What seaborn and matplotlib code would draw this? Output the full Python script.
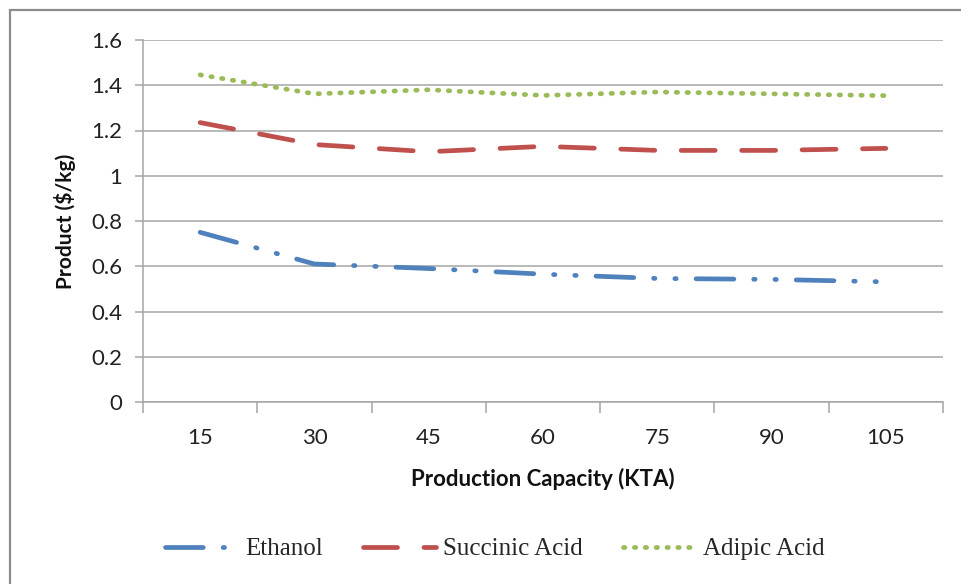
import matplotlib
matplotlib.use("Agg")
import matplotlib.pyplot as plt
from matplotlib.lines import Line2D
from matplotlib.patches import Rectangle
import seaborn as sns
import pandas as pd

# Production capacity categories (KTA) and product cost ($/kg)
capacity = ["15", "30", "45", "60", "75", "90", "105"]
ethanol = [0.75, 0.61, 0.59, 0.565, 0.546, 0.542, 0.531]
succinic_acid = [1.235, 1.138, 1.106, 1.13, 1.112, 1.112, 1.121]
adipic_acid = [1.446, 1.362, 1.38, 1.355, 1.37, 1.362, 1.354]

y_ticks = [0, 0.2, 0.4, 0.6, 0.8, 1.0, 1.2, 1.4, 1.6]
y_tick_labels = ["0", "0.2", "0.4", "0.6", "0.8", "1", "1.2", "1.4", "1.6"]

series_names = ["Ethanol", "Succinic Acid", "Adipic Acid"]
colors = ["#4F81BD", "#C0504D", "#9BBB59"]
dash_styles = [(8.0, 4.2, 0.3, 4.2, 0.3, 4.2), (7.2, 5.6), (0.3, 2.0)]

df = pd.DataFrame({
    "capacity": capacity * 3,
    "value": ethanol + succinic_acid + adipic_acid,
    "series": [n for n in series_names for _ in capacity],
})

sns.set_theme(style="white")
plt.rcParams["font.family"] = ["Lato", "DejaVu Sans"]

fig = plt.figure(figsize=(9.61, 5.84), dpi=100)
ax = fig.add_axes([143 / 961, 1 - 402 / 584, 800 / 961, 362 / 584])

lw = 3.4
sns.lineplot(data=df, x="capacity", y="value", hue="series",
             palette=colors, hue_order=series_names, sort=False,
             linewidth=lw, legend=False, ax=ax)

for line, dash in zip(ax.get_lines(), dash_styles):
    line.set_dashes(dash)
    line.set_dash_capstyle("round")
    line.set_solid_capstyle("round")

ax.set_xlim(-0.5, len(capacity) - 0.5)
ax.set_ylim(0, 1.6)

# Gridlines and axes in Excel-like gray
ax.set_yticks(y_ticks)
ax.set_yticklabels(y_tick_labels)
ax.yaxis.grid(True, color="#A6A6A6", linewidth=1.1)
ax.xaxis.grid(False)
ax.set_axisbelow(True)
for side in ["top", "right"]:
    ax.spines[side].set_visible(False)
for side in ["left", "bottom"]:
    ax.spines[side].set_color("#A6A6A6")
    ax.spines[side].set_linewidth(1.1)

ax.set_xticks(range(len(capacity)))
ax.set_xticklabels(capacity)
ax.set_xticks([i - 0.5 for i in range(len(capacity) + 1)], minor=True)
ax.tick_params(axis="x", which="major", length=0, pad=19, labelsize=16, labelcolor="#222222")
ax.tick_params(axis="x", which="minor", bottom=True, length=8, width=1.1, color="#A6A6A6")
ax.tick_params(axis="y", left=True, length=6, width=1.1, color="#A6A6A6", pad=9,
               labelsize=16, labelcolor="#222222")

ax.set_xlabel("Production Capacity (KTA)", fontsize=16, fontweight="bold",
              labelpad=14, color="#111111")
ax.set_ylabel("Product ($/kg)", fontsize=15, fontweight="bold",
              labelpad=11, color="#111111")

handles = [Line2D([0], [0], color=c, linewidth=lw, dashes=d,
                  dash_capstyle="round")
           for c, d in zip(colors, dash_styles)]
fig.legend(handles, series_names, loc="center", bbox_to_anchor=(495 / 961, 1 - 549 / 584),
           ncol=3, frameon=False, handlelength=2.9, columnspacing=1.6, handletextpad=0.3,
           prop={"family": "Liberation Serif", "size": 18})

# Chart border
fig.patches.append(Rectangle((10 / 961, -0.05), 1.0, 1.05 - 10 / 584, transform=fig.transFigure,
                             fill=False, edgecolor="#8C8C8C", linewidth=1.6))

fig.savefig("out.png", dpi=100, facecolor="white")
